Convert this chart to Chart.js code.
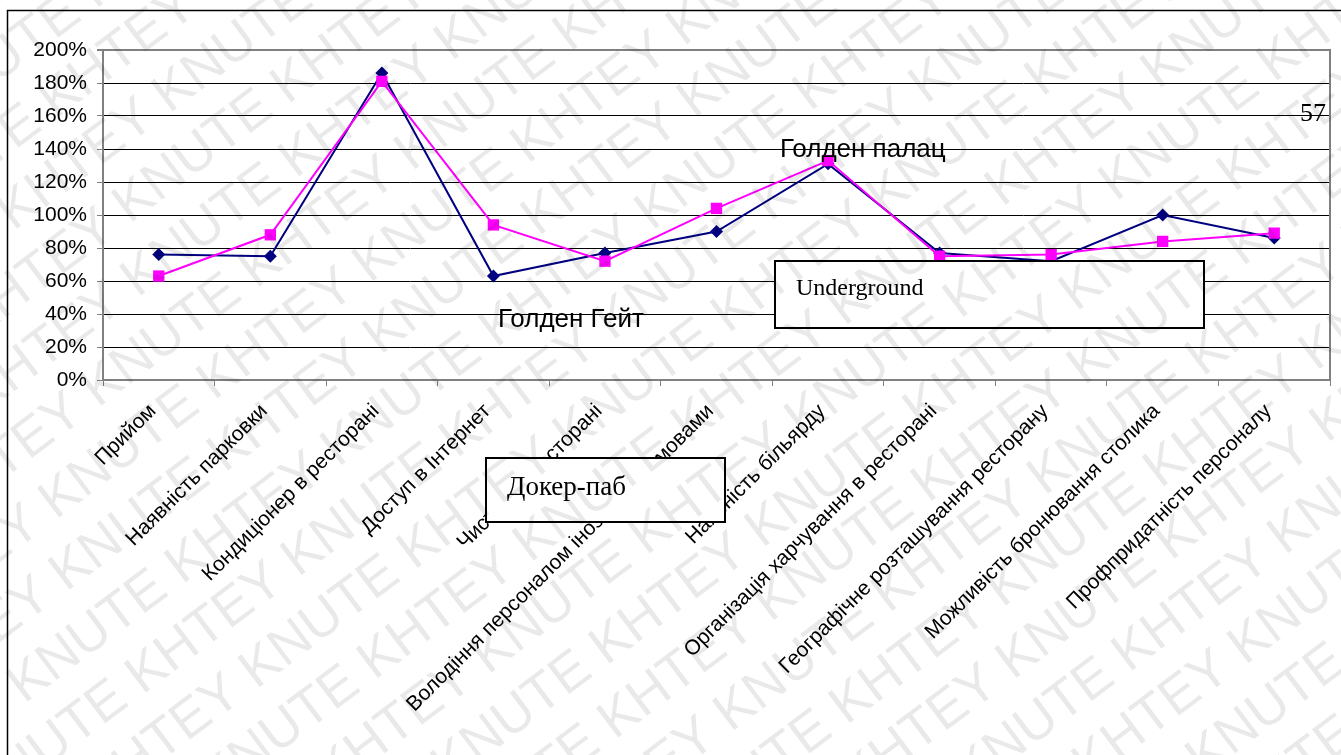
<!DOCTYPE html>
<html lang="uk">
<head>
<meta charset="utf-8">
<title>Оцінка якості обслуговування ресторанів</title>
<script src="https://cdn.jsdelivr.net/npm/chart.js@4/dist/chart.umd.min.js"></script>
<style>
  html, body { margin: 0; padding: 0; background: #fff; }
  #wrap { position: relative; width: 1341px; height: 755px; }
</style>
</head>
<body>
<div id="wrap"><canvas id="chart"></canvas></div>
<script>
// Критерії оцінки
const categories = [
  'Прийом',
  'Наявність парковки',
  'Кондиціонер в ресторані',
  'Доступ в Інтернет',
  'Чистота в ресторані',
  'Володіння персоналом іноземними мовами',
  'Наявність більярду',
  'Організація харчування в ресторані',
  'Географічне розташування ресторану',
  'Можливість бронювання столика',
  'Профпридатність персоналу'
];

// Оцінки, % (перший ряд — темно-синій, другий — пурпуровий)
const seriesNavy    = [76, 75, 186, 63, 77, 90, 131, 77, 72, 100, 86];
const seriesMagenta = [63, 88, 181, 94, 72, 104, 133, 75, 76, 84, 89];

// Шкала осі Y
const yMin = 0, yMax = 200, yStep = 20;

const SANS = '"Liberation Sans", Arial, sans-serif';
const SERIF = '"Liberation Serif", "Times New Roman", serif';

const decorations = {
  id: 'decorations',
  beforeDraw(chart) {
    const { ctx, width, height } = chart;
    ctx.save();
    ctx.fillStyle = '#fff';
    ctx.fillRect(0, 0, width, height);
    // рамка сторінки
    ctx.strokeStyle = '#000';
    ctx.lineWidth = 1.5;
    ctx.beginPath();
    ctx.moveTo(7.5, height);
    ctx.lineTo(7.5, 10.5);
    ctx.lineTo(width, 10.5);
    ctx.stroke();
    ctx.restore();
  },
  beforeDatasetsDraw(chart) {
    const { ctx, chartArea: a } = chart;
    ctx.save();
    ctx.strokeStyle = '#808080';
    ctx.lineWidth = 2;
    ctx.beginPath();
    ctx.moveTo(a.left, a.top);
    ctx.lineTo(a.right, a.top);
    ctx.lineTo(a.right, a.bottom);
    ctx.stroke();
    ctx.restore();
  },
  afterDraw(chart) {
    const { ctx, width, height } = chart;
    ctx.save();

    // підписи рядів
    ctx.fillStyle = '#000';
    ctx.textBaseline = 'alphabetic';
    ctx.textAlign = 'left';
    ctx.font = '26px ' + SANS;
    ctx.fillText('Голден палац', 780, 157);
    ctx.fillText('Голден Гейт', 498, 327);

    // рамки з назвами
    const box = (x, y, w, h, text, tx, ty, size) => {
      ctx.fillStyle = '#fff';
      ctx.fillRect(x, y, w, h);
      ctx.strokeStyle = '#000';
      ctx.lineWidth = 2;
      ctx.strokeRect(x, y, w, h);
      ctx.fillStyle = '#000';
      ctx.font = size + 'px ' + SERIF;
      ctx.fillText(text, tx, ty);
    };
    box(775, 261, 429, 67, 'Underground', 796, 295, 24);
    box(486, 458, 239, 64, 'Докер-паб', 507, 495, 27);

    // номер сторінки
    ctx.font = '26px ' + SERIF;
    ctx.textAlign = 'right';
    ctx.fillText('57', 1326, 121);

    // водяний знак
    ctx.font = '54px ' + SANS;
    ctx.textAlign = 'left';
    ctx.fillStyle = 'rgba(0,0,0,0.085)';
    ctx.translate(width / 2, height / 2);
    ctx.rotate(-37 * Math.PI / 180);
    for (let r = -13; r <= 13; r++) {
      const text = (r % 2 === 0 ? 'KHTEY KNUTE ' : 'KNUTE KHTEY ').repeat(10);
      ctx.fillText(text, -1500 + ((r * 97) % 330), r * 64);
    }
    ctx.restore();
  }
};

new Chart(document.getElementById('chart'), {
  type: 'line',
  data: {
    labels: categories,
    datasets: [
      {
        label: 'Ряд2',
        data: seriesMagenta,
        borderColor: '#FF00FF',
        backgroundColor: '#FF00FF',
        borderWidth: 2,
        pointStyle: 'rect',
        pointRadius: 8,
        pointHoverRadius: 8,
        pointBorderWidth: 0,
        tension: 0,
        order: 0
      },
      {
        label: 'Ряд1',
        data: seriesNavy,
        borderColor: '#000080',
        backgroundColor: '#000080',
        borderWidth: 2,
        pointStyle: 'rectRot',
        pointRadius: 6.5,
        pointHoverRadius: 6.5,
        pointBorderWidth: 0,
        tension: 0,
        order: 1
      }
    ]
  },
  options: {
    responsive: true,
    maintainAspectRatio: false,
    animation: false,
    events: [],
    layout: { padding: { top: 50, right: 11, left: 0, bottom: 0 } },
    plugins: {
      legend: { display: false },
      tooltip: { enabled: false }
    },
    scales: {
      x: {
        type: 'category',
        offset: true,
        afterFit(scale) { scale.height = 375; },
        grid: {
          display: true,
          offset: true,
          drawOnChartArea: false,
          drawTicks: true,
          tickLength: 6,
          color: '#808080',
          lineWidth: 1
        },
        border: { display: true, color: '#808080', width: 2 },
        ticks: {
          autoSkip: false,
          maxRotation: 45,
          minRotation: 45,
          padding: 13,
          labelOffset: -6,
          color: '#000',
          font: { family: SANS, size: 21 }
        }
      },
      y: {
        min: yMin,
        max: yMax,
        afterFit(scale) { scale.width = 103; },
        grid: {
          color: (c) => (c.tick && c.tick.value === yMax ? '#808080' : '#000'),
          lineWidth: (c) => (c.tick && c.tick.value === yMax ? 2 : 1),
          tickColor: '#808080',
          tickLength: 6,
          drawTicks: true
        },
        border: { display: true, color: '#808080', width: 2 },
        ticks: {
          stepSize: yStep,
          padding: 10,
          color: '#000',
          font: { family: SANS, size: 21 },
          callback: (v) => v + '%'
        }
      }
    }
  },
  plugins: [decorations]
});
</script>
</body>
</html>
